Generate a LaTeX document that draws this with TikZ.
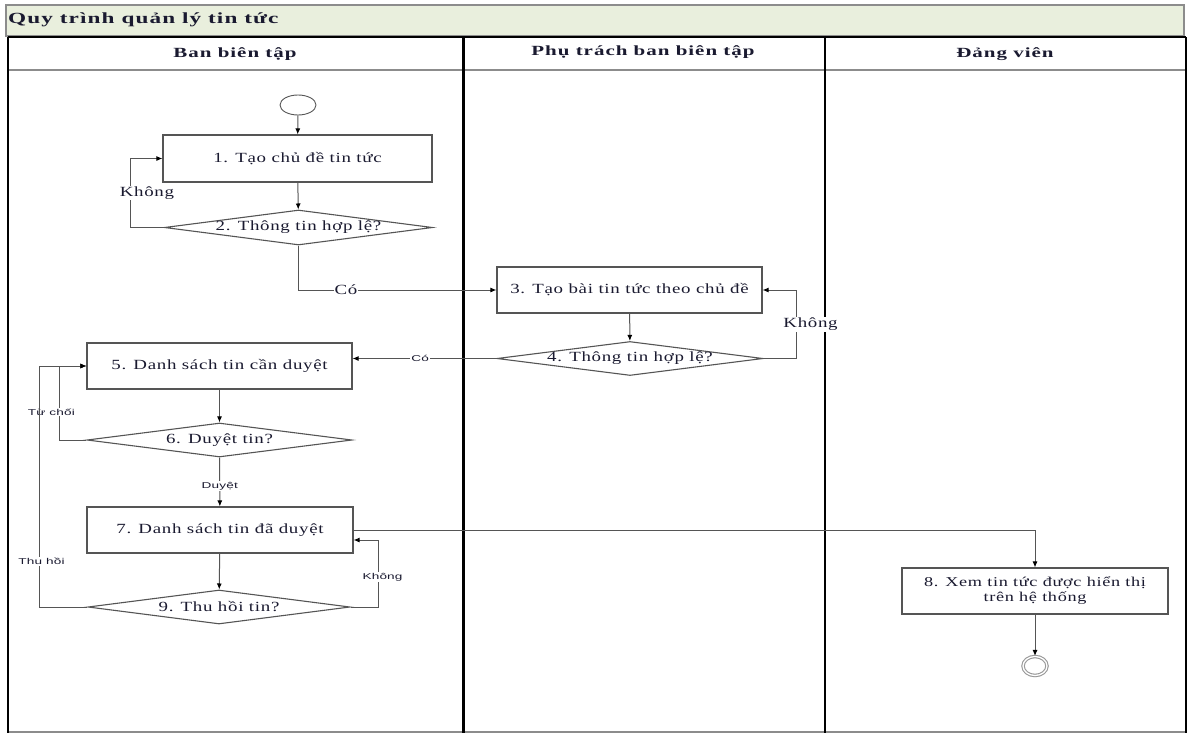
\documentclass[tikz,border=0pt]{standalone}
\usepackage{fontspec}
\setmainfont{Liberation Serif}[FakeStretch=1.35, LetterSpace=5]
\newfontfamily\headfont{Liberation Serif}[FakeStretch=1.5, LetterSpace=7]
\newfontfamily\labelfont{Liberation Sans}[FakeStretch=1.6, LetterSpace=2]
\usetikzlibrary{shapes.geometric, arrows.meta}

\definecolor{titlefill}{HTML}{E9EFDD}
\definecolor{framegray}{HTML}{8C8C8C}
\definecolor{linegray}{HTML}{555555}
\definecolor{txt}{HTML}{1A1A30}

\tikzset{
  proc/.style={rectangle, draw=linegray, line width=1.1pt, fill=white, inner sep=0pt,
    minimum width=266pt, minimum height=46pt, text=txt, align=center,
    font=\fontsize{14}{15}\selectfont},
  dec/.style={diamond, draw=linegray, line width=1.1pt, fill=white, inner sep=0pt,
    minimum width=266pt, minimum height=34pt},
  dectext/.style={text=txt, inner sep=0pt, font=\fontsize{14}{15}\selectfont},
  flow/.style={draw=linegray, line width=1pt, -{Latex[length=6pt,width=5pt,color=black]}},
  seriflbl/.style={fill=white, inner sep=1pt, text=txt, font=\fontsize{14}{15}\selectfont},
  sanslbl/.style={fill=white, inner sep=1pt, text=txt, font=\labelfont\fontsize{8.5}{10}\selectfont},
  lanehead/.style={text=txt, font=\headfont\bfseries\fontsize{14}{16}\selectfont},
  lanerule/.style={draw=black, line width=2.6pt},
}

\begin{document}
\begin{tikzpicture}[x=1pt, y=-1pt]
\useasboundingbox (0,0) rectangle (1189,734);
\fill[white] (0,0) rectangle (1189,734);

% title bar
\draw[draw=framegray, fill=titlefill, line width=1.2pt] (6,5) rectangle (1184,36);
\node[lanehead, anchor=west, inner sep=0pt, font=\headfont\bfseries\fontsize{15.5}{17}\selectfont] (title) at (8,20) {Quy trình quản lý tin tức};

% swimlane frame
\draw[draw=framegray, line width=1.2pt] (8,70) -- (1186,70);
\draw[draw=black, line width=2pt] (8,37) -- (1186,37);
\draw[draw=framegray, line width=1.5pt] (8,732) -- (1186,732);
\draw[lanerule, line width=2pt] (8,37) -- (8,733);
\draw[lanerule] (463.5,37) -- (463.5,733);
\draw[lanerule] (825,37) -- (825,733);
\draw[lanerule, line width=2pt] (1186,37) -- (1186,733);

\node[lanehead] (lane1) at (235,54) {Ban biên tập};
\node[lanehead] (lane2) at (643,52) {Phụ trách ban biên tập};
\node[lanehead] (lane3) at (1005,54) {Đảng viên};

% lane 1: topic creation
\node[ellipse, draw=linegray, line width=0.9pt, minimum width=36pt, minimum height=20pt, inner sep=0pt] (start) at (298,105) {};
\node[proc, minimum width=269pt, minimum height=47pt] (b1) at (297.5,158.5) {1. Tạo chủ đề tin tức};
\node[dec, minimum width=268pt, minimum height=35pt] (d2) at (298.5,227.5) {};
\node[dectext] (d2t) at (d2) {2. Thông tin hợp lệ?};

% lane 2: article creation
\node[proc, minimum width=265pt] (b3) at (629.5,290) {3. Tạo bài tin tức theo chủ đề};
\node[dec] (d4) at (630,358.5) {};
\node[dectext] (d4t) at (d4) {4. Thông tin hợp lệ?};

% lane 1: review
\node[proc, minimum width=265pt] (b5) at (219.5,366) {5. Danh sách tin cần duyệt};
\node[dec, minimum width=265pt] (d6) at (219.5,440) {};
\node[dectext] (d6t) at (d6) {6. Duyệt tin?};
\node[proc] (b7) at (220,530) {7. Danh sách tin đã duyệt};
\node[dec, minimum width=262pt] (d9) at (219,607) {};
\node[dectext] (d9t) at (d9) {9. Thu hồi tin?};

% lane 3: reader
\node[proc, font=\fontsize{13.5}{15}\selectfont] (b8) at (1035,591) {8. Xem tin tức được hiển thị\\trên hệ thống};
\node[ellipse, draw=gray!80, line width=1.1pt, double=white, double distance=1.3pt,
      minimum width=24pt, minimum height=19pt, inner sep=0pt] (stop) at (1035,666) {};

% connectors
\draw[flow] (start) -- (b1);
\draw[flow] (b1) -- (d2);
\draw[flow] (d2.west) -- ++(-33,0) |- node[seriflbl, pos=0.25, xshift=16pt] {Không} (b1.west);
\draw[flow] (d2.south) |- node[seriflbl, pos=0.62] {Có} (b3.west);
\draw[flow] (b3) -- (d4);
\draw[flow] (d4.east) -- ++(33,0) |- node[seriflbl, pos=0.25, xshift=14pt] {Không} (b3.east);
\draw[flow] (d4.west) -- node[sanslbl, pos=0.53] {Có} (d4.west -| b5.east);
\draw[flow] (b5) -- (d6);
\draw[flow] (d6.west) -- ++(-27,0) |- node[sanslbl, pos=0.19, xshift=-8pt] {Từ chối} (b5.west);
\draw[flow] (d6) -- node[sanslbl, pos=0.58] {Duyệt} (b7);
\draw[flow] (b7) -- (d9);
\draw[flow] (d9.west) -- ++(-48,0) |- node[sanslbl, pos=0.095, xshift=2pt] {Thu hồi} (b5.west);
\draw[flow] (d9.east) -- ++(28,0) |- node[sanslbl, pos=0.224, xshift=4pt] {Không} ([yshift=-10pt]b7.east);
\draw[flow] (b7.east) -| (b8.north);
\draw[flow] (b8) -- (stop);
\end{tikzpicture}
\end{document}
